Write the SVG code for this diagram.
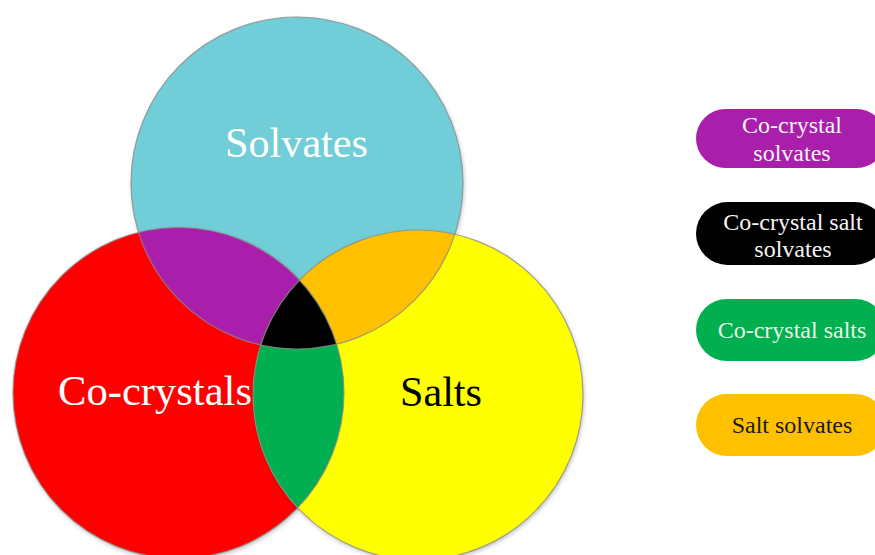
<svg xmlns="http://www.w3.org/2000/svg" width="875" height="555" viewBox="0 0 875 555">
<style>
.lbl{font-family:"Liberation Serif","Times New Roman",serif;}
.big{font-size:42px;}
.leg{font-size:24px;text-anchor:middle;}
.edge{fill:none;stroke:#8a8a8a;stroke-width:1.2;stroke-opacity:0.8;}
</style>
<defs>
<clipPath id="cBlue"><circle cx="297" cy="183" r="166"/></clipPath>
<clipPath id="cRed"><circle cx="178.5" cy="393" r="165.5"/></clipPath>
<clipPath id="cYel"><circle cx="418" cy="395" r="165"/></clipPath>
<filter id="sh" x="-10%" y="-10%" width="120%" height="120%">
<feDropShadow dx="1" dy="2" stdDeviation="2" flood-color="#000" flood-opacity="0.25"/>
</filter>
</defs>
<g id="circles">
<g id="solvates"><circle cx="297" cy="183" r="166" fill="#71CDD8" filter="url(#sh)"/></g>
<g id="co-crystals"><circle cx="178.5" cy="393" r="165.5" fill="#FF0000" filter="url(#sh)"/></g>
<g id="salts"><circle cx="418" cy="395" r="165" fill="#FFFF00" filter="url(#sh)"/></g>
<g id="co-crystal-solvates-region" clip-path="url(#cBlue)"><circle cx="178.5" cy="393" r="165.5" fill="#A91FAB"/></g>
<g id="salt-solvates-region" clip-path="url(#cBlue)"><circle cx="418" cy="395" r="165" fill="#FFC000"/></g>
<g id="co-crystal-salts-region" clip-path="url(#cRed)"><circle cx="418" cy="395" r="165" fill="#00B050"/></g>
<g id="co-crystal-salt-solvates-region" clip-path="url(#cYel)"><g clip-path="url(#cRed)"><circle cx="297" cy="183" r="166" fill="#000000"/></g></g>
<g id="outlines">
<circle class="edge" cx="297" cy="183" r="166"/>
<circle class="edge" cx="178.5" cy="393" r="165.5"/>
<circle class="edge" cx="418" cy="395" r="165"/>
</g>
</g>
<g id="labels">
<text class="lbl big" x="225" y="157" textLength="143" lengthAdjust="spacingAndGlyphs" fill="#ffffff" font-size="44">Solvates</text>
<text class="lbl big" x="58" y="405" textLength="194" lengthAdjust="spacingAndGlyphs" fill="#ffffff">Co-crystals</text>
<text class="lbl big" x="400" y="406" textLength="82" lengthAdjust="spacingAndGlyphs" fill="#000000">Salts</text>
</g>
<g id="legend">
<g id="leg-cocrystal-solvates">
<rect x="696" y="109" width="190" height="59" rx="29.5" fill="#A91FAB"/>
<text class="lbl leg" x="792" y="133" fill="#f4f4f4">Co-crystal</text>
<text class="lbl leg" x="792" y="161" fill="#f4f4f4">solvates</text>
</g>
<g id="leg-cocrystal-salt-solvates">
<rect x="696" y="202" width="190" height="63" rx="31.5" fill="#000000"/>
<text class="lbl leg" x="793" y="230" fill="#f4f4f4">Co-crystal salt</text>
<text class="lbl leg" x="793" y="257" fill="#f4f4f4">solvates</text>
</g>
<g id="leg-cocrystal-salts">
<rect x="696" y="299" width="190" height="62" rx="31" fill="#00B050"/>
<text class="lbl leg" x="792" y="338" fill="#eaf7e6">Co-crystal salts</text>
</g>
<g id="leg-salt-solvates">
<rect x="696" y="394" width="190" height="62" rx="31" fill="#FFC000"/>
<text class="lbl leg" x="792" y="433" fill="#1a1a1a">Salt solvates</text>
</g>
</g>
</svg>
